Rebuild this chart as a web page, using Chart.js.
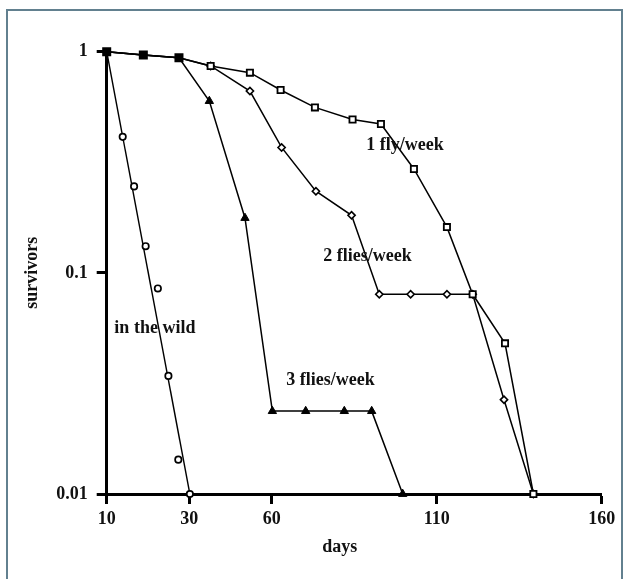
<!DOCTYPE html>
<html>
<head>
<meta charset="utf-8">
<title>survivors vs days</title>
<script src="https://cdn.jsdelivr.net/npm/chart.js@4.4.1/dist/chart.umd.min.js"></script>
<style>
  html, body { margin: 0; padding: 0; background: #fff; }
  #wrap { position: relative; width: 627px; height: 579px; overflow: hidden; }
  #frame {
    position: absolute; left: 6px; top: 9px; width: 617px; height: 600px;
    box-sizing: border-box; border: 2px solid #62808f; border-bottom: none;
  }
  #chart { position: absolute; left: 0; top: 0; }
</style>
</head>
<body>
<div id="wrap">
  <div id="frame"></div>
  <canvas id="chart" width="627" height="579"></canvas>
</div>
<script>
// survival curves, log y axis
var oneFlyDays = [10, 21.1, 31.9, 41.5, 53.4, 62.7, 73.1, 84.5, 93.1, 103.1, 113.1, 120.9, 130.7, 139.3];
var oneFlySurv = [1, 0.966, 0.939, 0.862, 0.804, 0.671, 0.56, 0.494, 0.471, 0.295, 0.161, 0.08, 0.048, 0.01];

var twoFliesDays = [10, 21.1, 31.9, 41.5, 53.4, 63.0, 73.4, 84.2, 92.6, 102.1, 113.1, 120.9, 130.4, 139.3];
var twoFliesSurv = [1, 0.966, 0.939, 0.862, 0.664, 0.369, 0.234, 0.182, 0.08, 0.08, 0.08, 0.08, 0.0267, 0.01];

var threeFliesDays = [10, 21.1, 31.9, 41.1, 51.9, 60.2, 70.3, 82.0, 90.3, 99.7];
var threeFliesSurv = [1, 0.966, 0.939, 0.598, 0.177, 0.0237, 0.0237, 0.0237, 0.0237, 0.01];

// "in the wild": scattered observations + straight fitted line
var wildDays = [14.85, 18.3, 21.8, 25.5, 28.7, 31.7, 35.2];
var wildSurv = [0.412, 0.246, 0.132, 0.085, 0.0342, 0.0143, 0.01];
var wildFitDays = [10, 35.2];
var wildFitSurv = [1, 0.01];

var xTickValues = [10, 35, 60, 110, 160];
var xTickLabels = ['10', '30', '60', '110', '160'];
var yTickValues = [1, 0.1, 0.01];
var yTickLabels = ['1', '0.1', '0.01'];

// curve labels, anchored in data units
var curveLabelText = ['1 fly/week', '2 flies/week', '3 flies/week', 'in the wild'];
var curveLabelDays = [100.4, 89.0, 77.8, 24.6];
var curveLabelSurv = [0.378, 0.119, 0.0327, 0.0562];

var FONT = 'bold 18px "Liberation Serif", "Times New Roman", serif';
var INK = '#111';
var SHARED = 3; // first points shared by the three fed groups (drawn as filled squares)

function pts(xs, ys) {
  return xs.map(function (x, i) { return { x: x, y: ys[i] }; });
}

var curveLabels = {
  id: 'curveLabels',
  afterDatasetsDraw: function (chart) {
    var ctx = chart.ctx;
    var xs = chart.scales.x;
    var ys = chart.scales.y;
    ctx.save();
    ctx.font = FONT;
    ctx.fillStyle = INK;
    ctx.textAlign = 'center';
    ctx.textBaseline = 'middle';
    curveLabelText.forEach(function (t, i) {
      ctx.fillText(t, xs.getPixelForValue(curveLabelDays[i]), ys.getPixelForValue(curveLabelSurv[i]));
    });
    // x axis title sits a little left of the axis centre in the original
    ctx.fillText('days', xs.left + (xs.right - xs.left) * 0.471, xs.bottom - 32);
    ctx.restore();
  }
};

new Chart(document.getElementById('chart'), {
  type: 'scatter',
  data: {
    datasets: [
      {
        label: '1 fly/week',
        data: pts(oneFlyDays, oneFlySurv),
        showLine: true,
        borderColor: '#000',
        borderWidth: 1.5,
        pointStyle: 'rect',
        pointRadius: function (c) { return c.dataIndex < SHARED ? 5.1 : 4.4; },
        pointBackgroundColor: function (c) { return c.dataIndex < SHARED ? '#000' : '#fff'; },
        pointBorderColor: '#000',
        pointBorderWidth: 1.8,
        clip: false
      },
      {
        label: '2 flies/week',
        data: pts(twoFliesDays, twoFliesSurv),
        showLine: true,
        borderColor: '#000',
        borderWidth: 1.5,
        pointStyle: 'rectRot',
        pointRadius: function (c) { return c.dataIndex < SHARED ? 0 : 3.6; },
        pointBackgroundColor: '#fff',
        pointBorderColor: '#000',
        pointBorderWidth: 1.6,
        clip: false
      },
      {
        label: '3 flies/week',
        data: pts(threeFliesDays, threeFliesSurv),
        showLine: true,
        borderColor: '#000',
        borderWidth: 1.5,
        pointStyle: 'triangle',
        pointRadius: function (c) { return c.dataIndex < SHARED ? 0 : 4.8; },
        pointBackgroundColor: '#000',
        pointBorderColor: '#000',
        pointBorderWidth: 1,
        clip: false
      },
      {
        label: 'in the wild',
        data: pts(wildDays, wildSurv),
        showLine: false,
        pointStyle: 'circle',
        pointRadius: 3.2,
        pointBackgroundColor: '#fff',
        pointBorderColor: '#000',
        pointBorderWidth: 1.7,
        clip: false
      },
      {
        label: 'in the wild (fit)',
        data: pts(wildFitDays, wildFitSurv),
        showLine: true,
        borderColor: '#000',
        borderWidth: 1.4,
        pointRadius: 0,
        clip: false
      }
    ]
  },
  options: {
    responsive: false,
    devicePixelRatio: 1,
    animation: false,
    events: [],
    layout: { padding: { top: 51.7, right: 25.3, left: 0, bottom: 0 } },
    scales: {
      x: {
        type: 'linear',
        min: 10,
        max: 160,
        afterBuildTicks: function (s) {
          s.ticks = xTickValues.map(function (v) { return { value: v }; });
        },
        afterFit: function (s) { s.height = 85; },
        ticks: {
          color: INK,
          padding: 5,
          maxRotation: 0,
          autoSkip: false,
          font: { family: '"Liberation Serif", "Times New Roman", serif', weight: 'bold', size: 18 },
          callback: function (v, i) { return xTickLabels[i]; }
        },
        grid: { drawOnChartArea: false, drawTicks: true, tickLength: 10, tickWidth: 3, color: '#000' },
        border: { display: true, color: '#000', width: 3 }
      },
      y: {
        type: 'logarithmic',
        min: 0.01,
        max: 1,
        afterBuildTicks: function (s) {
          s.ticks = yTickValues.map(function (v) { return { value: v }; });
        },
        afterFit: function (s) { s.width = 106.7; },
        ticks: {
          color: INK,
          padding: 9,
          autoSkip: false,
          font: { family: '"Liberation Serif", "Times New Roman", serif', weight: 'bold', size: 18 },
          callback: function (v, i) { return yTickLabels[i]; }
        },
        title: {
          display: true,
          text: 'survivors',
          color: INK,
          padding: { top: 22, bottom: 0 },
          font: { family: '"Liberation Serif", "Times New Roman", serif', weight: 'bold', size: 18 }
        },
        grid: { drawOnChartArea: false, drawTicks: true, tickLength: 10, tickWidth: 3, color: '#000' },
        border: { display: true, color: '#000', width: 3 }
      }
    },
    plugins: {
      legend: { display: false },
      tooltip: { enabled: false }
    }
  },
  plugins: [curveLabels]
});
</script>
</body>
</html>
